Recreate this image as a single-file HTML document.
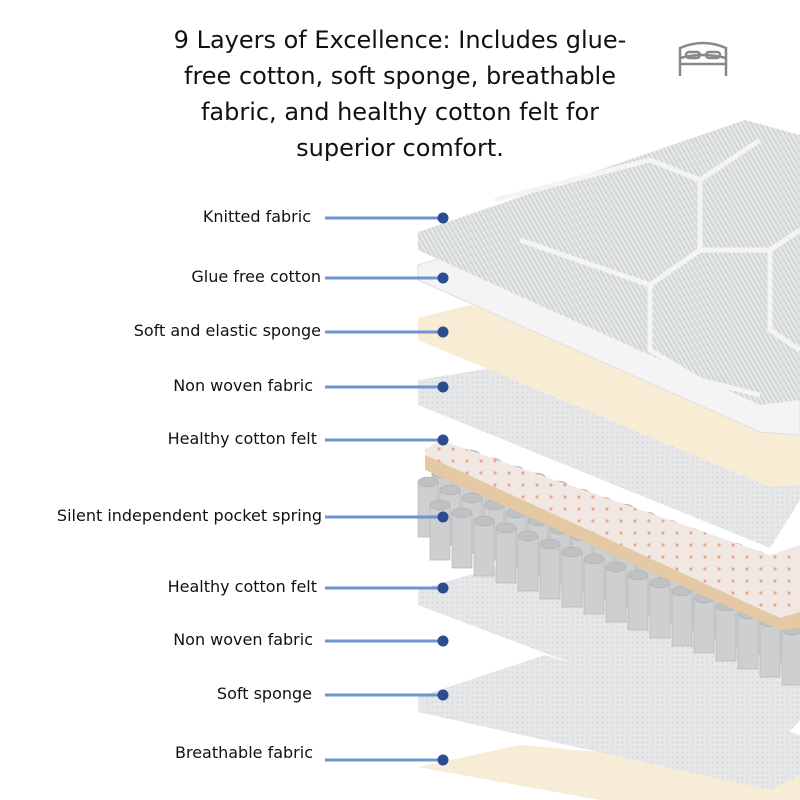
<!DOCTYPE html>
<html><head><style>
body{margin:0;width:800px;height:800px;background:#fff;overflow:hidden;position:relative;}
.t{position:absolute;left:172px;width:456px;top:22px;text-align:center;line-height:36px;color:#111;font-family:"DejaVu Sans","Liberation Sans",sans-serif;font-size:24px;}
.l{position:absolute;color:#111;white-space:nowrap;font-family:"DejaVu Sans","Liberation Sans",sans-serif;font-size:16px;}
svg{position:absolute;left:0;top:0}
</style></head><body>
<svg width="800" height="800">
<defs>
<pattern id="dots" width="14" height="12" patternUnits="userSpaceOnUse"><circle cx="5" cy="5" r="1.6" fill="#e7a98a"/></pattern>
<pattern id="str" width="4" height="4" patternUnits="userSpaceOnUse" patternTransform="rotate(-30)"><rect width="4" height="4" fill="#e4e7e4"/><rect width="1.5" height="4" fill="#cfd3cf"/></pattern>
<pattern id="mesh" width="5" height="5" patternUnits="userSpaceOnUse"><rect width="5" height="5" fill="#e6e7e9"/><circle cx="2.5" cy="2.5" r="1" fill="#d4d6d9"/></pattern>
<g id="c"><rect x="0" y="0" width="20" height="55" fill="#cdcfd1" stroke="#b4b6b8" stroke-width="0.7"/><ellipse cx="10" cy="0" rx="10" ry="5" fill="#bfc1c3" stroke="#aaa" stroke-width="0.5"/></g>
<g id="row">
<use href="#c" x="0" y="0"/><use href="#c" x="22" y="8"/><use href="#c" x="44" y="16"/><use href="#c" x="66" y="23"/><use href="#c" x="88" y="31"/><use href="#c" x="110" y="39"/><use href="#c" x="132" y="47"/><use href="#c" x="154" y="54"/><use href="#c" x="176" y="62"/><use href="#c" x="198" y="70"/><use href="#c" x="220" y="78"/><use href="#c" x="242" y="86"/><use href="#c" x="264" y="93"/><use href="#c" x="286" y="101"/><use href="#c" x="308" y="109"/><use href="#c" x="330" y="117"/><use href="#c" x="352" y="125"/><use href="#c" x="374" y="133"/>
</g>
</defs>
<!-- bottom cream -->
<polygon points="418,767 520,745 800,770 800,800 600,800" fill="#f7ecd6"/>
<!-- soft sponge -->
<polygon points="418,697 545,655 800,735 800,775 770,790 418,712" fill="url(#mesh)"/>
<!-- felt / nonwoven -->
<polygon points="418,590 520,560 800,640 800,720 780,742 418,605" fill="url(#mesh)"/>
<!-- springs -->
<use href="#row" x="460" y="455"/>
<use href="#row" x="446" y="464"/>
<use href="#row" x="432" y="473"/>
<use href="#row" x="418" y="482"/>
<use href="#row" x="430" y="505"/>
<!-- latex -->
<polygon points="425,450 440,440 770,555 800,545 800,625 780,622 425,462" fill="#f1e8e4"/>
<polygon points="425,450 440,440 770,555 800,545 800,625 780,622 425,462" fill="url(#dots)"/>
<polygon points="425,455 780,618 800,612 800,628 780,630 425,470" fill="#e5c9a4"/>
<!-- nonwoven gray -->
<polygon points="418,380 540,360 800,430 800,500 770,548 418,405" fill="url(#mesh)"/>
<!-- cream sponge -->
<polygon points="418,318 470,305 800,400 800,485 770,487 418,340" fill="#f8ecd5"/>
<!-- glue free white -->
<polygon points="418,265 470,250 800,360 800,435 760,432 418,280" fill="#f4f4f4" stroke="#dedede"/>
<!-- top knitted -->
<polygon points="418,232 745,120 800,135 800,400 760,405 418,250" fill="url(#str)"/>
<g fill="none" stroke="#f3f5f3" stroke-width="5">
<path d="M495,200 L650,160 L700,180 L700,250 L650,285 L520,240"/>
<path d="M700,250 L770,250 L800,230 M700,180 L760,140 M650,285 L650,350 L700,380 L760,395 M770,250 L770,330 L800,350"/>
</g>
</svg>
<div class="t">9 Layers of Excellence: Includes glue-free cotton, soft sponge, breathable fabric, and healthy cotton felt for superior comfort.</div>
<svg width="800" height="800">
<g fill="none" stroke="#888" stroke-width="2.5"><path d="M680,76 V48 Q703,38 726,48 V76 M680,64 H726 M680,58 Q703,52 726,58"/><rect x="686" y="52" width="14" height="6" rx="3"/><rect x="706" y="52" width="14" height="6" rx="3"/></g>
<g stroke="#6f95cf" stroke-width="3">
<line x1="325" y1="218" x2="442" y2="218"/><line x1="325" y1="278" x2="442" y2="278"/><line x1="325" y1="332" x2="442" y2="332"/><line x1="325" y1="387" x2="442" y2="387"/><line x1="325" y1="440" x2="442" y2="440"/><line x1="325" y1="517" x2="442" y2="517"/><line x1="325" y1="588" x2="442" y2="588"/><line x1="325" y1="641" x2="442" y2="641"/><line x1="325" y1="695" x2="442" y2="695"/><line x1="325" y1="760" x2="442" y2="760"/>
</g>
<g fill="#2b4d8f">
<circle cx="443" cy="218" r="5.5"/><circle cx="443" cy="278" r="5.5"/><circle cx="443" cy="332" r="5.5"/><circle cx="443" cy="387" r="5.5"/><circle cx="443" cy="440" r="5.5"/><circle cx="443" cy="517" r="5.5"/><circle cx="443" cy="588" r="5.5"/><circle cx="443" cy="641" r="5.5"/><circle cx="443" cy="695" r="5.5"/><circle cx="443" cy="760" r="5.5"/>
</g>
</svg>
<div class="l" style="right:489px;top:207px">Knitted fabric</div>
<div class="l" style="right:479px;top:267px">Glue free cotton</div>
<div class="l" style="right:479px;top:321px">Soft and elastic sponge</div>
<div class="l" style="right:487px;top:376px">Non woven fabric</div>
<div class="l" style="right:483px;top:429px">Healthy cotton felt</div>
<div class="l" style="right:478px;top:506px">Silent independent pocket spring</div>
<div class="l" style="right:483px;top:577px">Healthy cotton felt</div>
<div class="l" style="right:487px;top:630px">Non woven fabric</div>
<div class="l" style="right:488px;top:684px">Soft sponge</div>
<div class="l" style="right:487px;top:743px">Breathable fabric</div>
</body></html>
